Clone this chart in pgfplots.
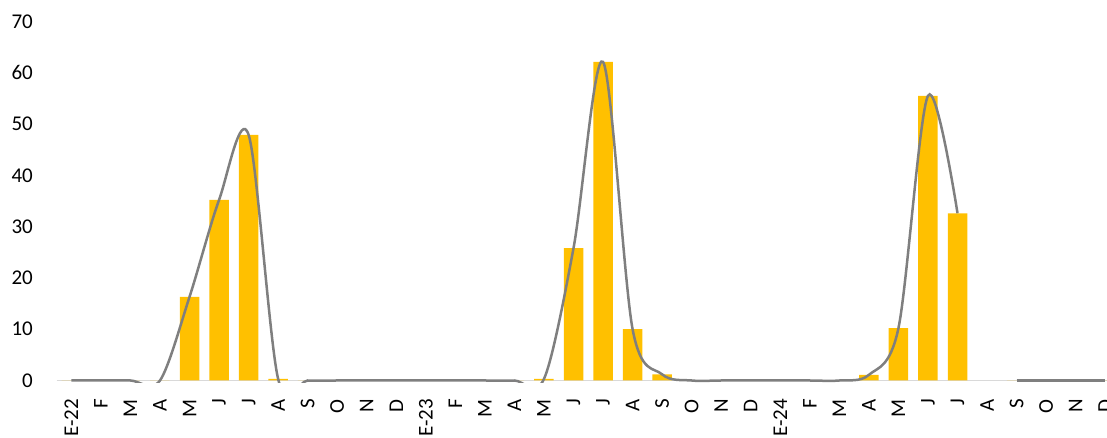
\documentclass[border=0pt]{standalone}
\usepackage{pgfplots}
\pgfplotsset{compat=1.18}
\usepackage{fontspec}
\setmainfont{Carlito}
\definecolor{barc}{HTML}{FFC000}
\definecolor{linec}{HTML}{7F7F7F}
\definecolor{axc}{HTML}{D9D9D9}
\begin{document}
\begin{tikzpicture}
\begin{axis}[
  at={(0,0)}, anchor=south west,
  scale only axis,
  width=1063.4pt, height=361.15pt,
  xmin=-0.5, xmax=35.5,
  ymin=-0.4, ymax=70,
  enlargelimits=false,
  axis lines=left,
  axis line style={draw=none},
  major tick length=0pt,
  tick style={draw=none},
  ytick={0,10,...,70},
  xtick={0,...,35},
  xticklabels={E-22,F,M,A,M,J,J,A,S,O,N,D,E-23,F,M,A,M,J,J,A,S,O,N,D,E-24,F,M,A,M,J,J,A,S,O,N,D},
  /pgf/number format/assume math mode=true,
  ticklabel style={font=\fontsize{21}{24}\selectfont},
  yticklabel style={anchor=east, inner sep=0pt},
  yticklabel shift=23.6pt,
  xticklabel style={rotate=90, anchor=east, inner sep=0pt},
  xticklabel shift=16.5pt,
]
\addplot[axc, line width=1.5pt] coordinates {(-0.5,0) (35.5,0)};
\addplot[ybar, bar width=19.5pt, fill=barc, draw=none] coordinates {
(0,0) (1,0) (2,0) (3,0) (4,16.3) (5,35.2) (6,47.9) (7,0.3) (8,0) (9,0) (10,0) (11,0)
(12,0) (13,0) (14,0) (15,0) (16,0.3) (17,25.8) (18,62.1) (19,10.0) (20,1.2) (21,0) (22,0) (23,0)
(24,0) (25,0) (26,0) (27,1.1) (28,10.2) (29,55.5) (30,32.6) (32,0) (33,0) (34,0) (35,0)
};
\addplot[linec, line width=2.5pt, smooth, tension=0.52] coordinates {
(0,0) (1,0) (2,0) (3,0) (4,16.3) (5,35.2) (6,47.9) (7,0.3) (8,0) (9,0) (10,0) (11,0)
(12,0) (13,0) (14,0) (15,0) (16,0.3) (17,25.8) (18,62.1) (19,10.0) (20,1.2) (21,0) (22,0) (23,0)
(24,0) (25,0) (26,0) (27,1.1) (28,10.2) (29,55.5) (30,32.6)
};
\addplot[linec, line width=2.5pt, smooth, tension=0.52] coordinates {
(32,0) (33,0) (34,0) (35,0)
};
\end{axis}
\pgfresetboundingbox
\useasboundingbox (-56.6pt,-55.45pt) rectangle (1050.4pt,382.55pt);
\end{tikzpicture}
\end{document}
